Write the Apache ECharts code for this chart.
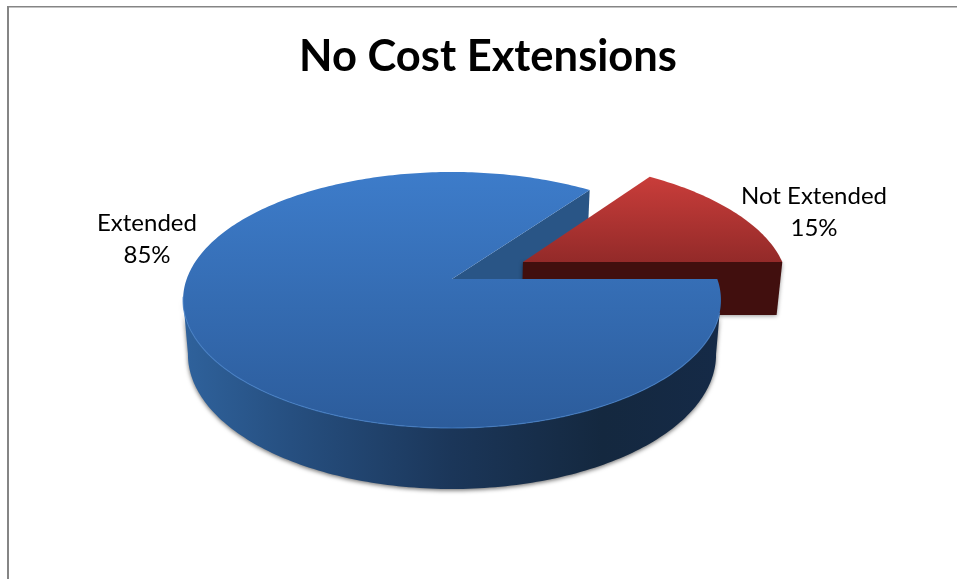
<!DOCTYPE html>
<html>
<head>
<meta charset="utf-8">
<style>html,body{margin:0;padding:0;background:#fff}#chart{width:957px;height:579px}</style>
<script src="https://cdn.jsdelivr.net/npm/echarts@6/dist/echarts.min.js"></script>
</head>
<body>
<div id="chart"></div>
<script>
const chartTitle = 'No Cost Extensions';
const categories = ['Extended', 'Not Extended'];
const shares = [85, 15];
const exploded = [0, 0.307];
const labelAnchors = [[147, 239], [814, 212]];

// Perspective camera for the tilted disc: unit-circle coordinates go to screen pixels.
const cam = { cx: 452, cy: 279, r: 265.3, tiltY: 78.8, persp: -0.164, depth: 59.8, shrink: 0.018 };

function project(u, v, low) {
  const w = 1 + cam.persp * v + (low ? cam.shrink : 0);
  return [
    cam.cx + cam.r * u / w,
    (cam.cy + cam.tiltY * v + (low ? cam.depth : 0)) / w
  ];
}

function rimPoint(deg, off, low) {
  const a = deg * Math.PI / 180;
  return project(off[0] + Math.cos(a), off[1] - Math.sin(a), low);
}

function arc(from, to, off, low) {
  const pts = [];
  const n = Math.max(2, Math.round(Math.abs(to - from)));
  for (let i = 0; i <= n; i++) pts.push(rimPoint(from + (to - from) * i / n, off, low));
  return pts;
}

function linear(x, y, x2, y2, stops) {
  return new echarts.graphic.LinearGradient(x, y, x2, y2,
    stops.map(s => ({ offset: s[0], color: s[1] })));
}

// Slices run counter-clockwise; the last one begins at three o'clock.
const startAngle = 360 * shares[shares.length - 1] / 100;

function sliceRange(index) {
  let a = startAngle;
  for (let i = 0; i < index; i++) a += 360 * shares[i] / 100;
  return [a, a + 360 * shares[index] / 100];
}

function renderSlice(params, api) {
  const i = params.dataIndex;
  const [a0, a1] = sliceRange(i);
  const mid = (a0 + a1) / 2 * Math.PI / 180;
  const d = exploded[i];
  const off = [d * Math.cos(mid), -d * Math.sin(mid)];
  const apexTop = project(off[0], off[1], false);
  const apexLow = project(off[0], off[1], true);
  const topFace = [apexTop].concat(arc(a0, a1, off, false));
  const children = [];

  if (i === 0) {
    // wall of the wedge cut, seen through the gap left by the pulled-out slice
    children.push({
      type: 'polygon', z2: 1,
      shape: { points: [apexTop, rimPoint(a0, off, false), rimPoint(a0, off, true), apexLow] },
      style: { fill: '#295586' }
    });
    // curved front wall between the two silhouette tangents, with a soft contact shadow
    const front = arc(189, 351, off, false).concat(arc(351, 189, off, true));
    children.push({
      type: 'polygon', z2: 4,
      shape: { points: front },
      style: {
        fill: linear(0, 0, 1, 0, [[0, '#2f629c'], [0.2, '#264f80'], [0.5, '#1b3659'], [0.78, '#14283f'], [1, '#152a47']]),
        shadowBlur: 4, shadowColor: 'rgba(0,0,0,0.55)', shadowOffsetX: 0, shadowOffsetY: 1.5
      }
    });
    children.push({
      type: 'polygon', z2: 5,
      shape: { points: topFace },
      style: { fill: linear(0, 0, 0, 1, [[0, '#3d7cca'], [1, '#2c5c9b']]), lineJoin: 'round' }
    });
    children.push({
      type: 'polyline', z2: 6,
      shape: { points: arc(188, 345, off, false) },
      style: { stroke: '#4580c8', lineWidth: 1.2, fill: null, opacity: 0.75 }
    });
  } else {
    children.push({
      type: 'polygon', z2: 2,
      shape: { points: [apexTop].concat([rimPoint(a0, off, false), rimPoint(a0, off, true), apexLow]) },
      style: {
        fill: '#410f0e',
        shadowBlur: 4, shadowColor: 'rgba(0,0,0,0.4)', shadowOffsetY: 1
      }
    });
    children.push({
      type: 'polygon', z2: 3,
      shape: { points: topFace },
      style: { fill: linear(0, 0, 0, 1, [[0, '#c93d3a'], [1, '#932a29']]) }
    });
  }

  children.push({
    type: 'text', z2: 10,
    style: {
      x: labelAnchors[i][0], y: labelAnchors[i][1],
      text: categories[i] + '\n' + api.value(1) + '%',
      align: 'center', verticalAlign: 'middle',
      font: '24px Lato', lineHeight: 32, fill: '#000'
    }
  });
  return { type: 'group', children };
}

const chart = echarts.init(document.getElementById('chart'), null, { renderer: 'canvas' });
chart.setOption({
  animation: false,
  backgroundColor: '#ffffff',
  title: {
    text: chartTitle, left: 483, top: 30, textAlign: 'center',
    textStyle: { fontFamily: 'Lato', fontWeight: 'bold', fontSize: 43.5, color: '#000' }
  },
  graphic: [{
    type: 'polyline', silent: true,
    shape: { points: [[8, 579], [8, 6]] },
    style: { stroke: '#858585', lineWidth: 2, fill: null }
  }, {
    type: 'polyline', silent: true,
    shape: { points: [[7, 6.75], [957, 6.75]] },
    style: { stroke: '#858585', lineWidth: 1.5, fill: null }
  }],
  series: [{
    type: 'custom',
    coordinateSystem: 'none',
    renderItem: renderSlice,
    data: categories.map((c, i) => ({ name: c, value: [i, shares[i]] }))
  }]
});
</script>
</body>
</html>
